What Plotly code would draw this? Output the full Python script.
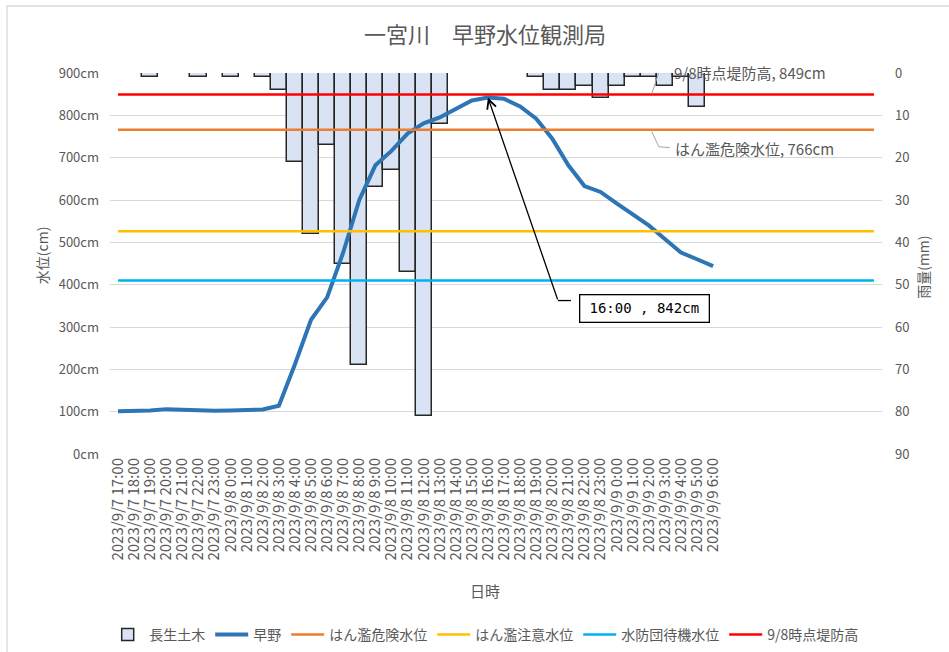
import plotly.graph_objects as go

# Hourly timestamps (9/7 17:00 - 9/9 6:00) plus blank trailing slots on the category axis
time_labels = (
    [f"2023/9/7 {h}:00" for h in range(17, 24)]
    + [f"2023/9/8 {h}:00" for h in range(0, 24)]
    + [f"2023/9/9 {h}:00" for h in range(0, 7)]
)
n_slots = 48

# 早野 water level (cm)
hayano_level = [101, 101, 103, 106, 104, 102, 102, 103, 104, 105,
                114, 212, 317, 370, 476, 600, 682, 716, 757, 781,
                795, 814, 835, 842, 839, 821, 792, 745, 682, 633,
                619, 592, 566, 540, 508, 476, 460, 444]

# 長生土木 hourly rainfall (mm); None = no rain recorded
chosei_rain = [None, None, 1, None, None, 1, None, 1, None, 1,
               4, 21, 38, 17, 45, 69, 27, 23, 47, 81,
               12, None, None, None, None, None, 1, 4, 4, 3,
               6, 3, 1, 1, 3, 1, 8, None]

# Reference water levels (cm)
danger_level = 766      # はん濫危険水位
caution_level = 526     # はん濫注意水位
standby_level = 410     # 水防団待機水位
levee_height = 849      # 9/8時点堤防高

level_ticks = list(range(0, 901, 100))
rain_ticks = list(range(0, 91, 10))

peak_idx = 23
peak_text = "16:00 , 842cm"
label_idx = 33

FONT = "Noto Sans CJK JP"
GREY = "#595959"

x_all = list(range(n_slots))
x_obs = list(range(len(time_labels)))

fig = go.Figure()

fig.add_trace(go.Bar(
    x=x_obs, y=chosei_rain, yaxis="y", name="長生土木",
    marker=dict(color="#DAE3F3", line=dict(color="#262626", width=1.5)),
    width=1.0,
))
fig.add_trace(go.Scatter(
    x=x_obs, y=hayano_level, yaxis="y2", name="早野", mode="lines",
    line=dict(color="#2E75B6", width=4),
))
for name, val, col in [
    ("はん濫危険水位", danger_level, "#ED7D31"),
    ("はん濫注意水位", caution_level, "#FFC000"),
    ("水防団待機水位", standby_level, "#00B0F0"),
    ("9/8時点堤防高", levee_height, "#FF0000"),
]:
    fig.add_trace(go.Scatter(
        x=x_all, y=[val] * n_slots, yaxis="y2", name=name, mode="lines",
        line=dict(color=col, width=2.5),
    ))

annotations = [
    # axis titles
    dict(text="水位(cm)", xref="paper", yref="paper", x=-0.088, y=0.522,
         xanchor="center", yanchor="middle",
         textangle=-90, showarrow=False, font=dict(size=14, color=GREY, family=FONT)),
    dict(text="雨量(mm)", xref="paper", yref="paper", x=1.053, y=0.491,
         xanchor="center", yanchor="middle",
         textangle=-90, showarrow=False, font=dict(size=14, color=GREY, family=FONT)),
    dict(text="日時", xref="paper", yref="paper", x=0.486, y=-0.357,
         xanchor="center", yanchor="middle",
         showarrow=False, font=dict(size=15, color=GREY, family=FONT)),
    # threshold data labels
    dict(text=f"9/8時点堤防高, {levee_height}cm", x=label_idx, y=levee_height,
         xref="x", yref="y2", xanchor="left", yanchor="middle",
         xshift=23, yshift=22, showarrow=False,
         font=dict(size=15, color=GREY, family=FONT)),
    dict(text=f"はん濫危険水位, {danger_level}cm", x=label_idx, y=danger_level,
         xref="x", yref="y2", xanchor="left", yanchor="middle",
         xshift=24, yshift=-19, showarrow=False,
         font=dict(size=15, color=GREY, family=FONT)),
    # peak callout
    dict(text=" ", x=peak_idx, y=hayano_level[peak_idx], xref="x", yref="y2",
         showarrow=True, ax=70, ay=203, arrowhead=5, arrowsize=1.4,
         arrowwidth=1.3, arrowcolor="black", standoff=0, borderpad=0,
         font=dict(size=1)),
    dict(text=peak_text, x=peak_idx, y=hayano_level[peak_idx], xref="x", yref="y2",
         xshift=157, yshift=-211, showarrow=False,
         font=dict(size=14, color="black", family="DejaVu Sans Mono"),
         bordercolor="black", borderwidth=1.3, borderpad=5, bgcolor="white",
         width=118),
]

shapes = [
    # elbow of the peak callout leader
    dict(type="path", xref="x", yref="y2", xsizemode="pixel", ysizemode="pixel",
         xanchor=peak_idx, yanchor=hayano_level[peak_idx],
         path="M70,-203 L83,-203", line=dict(color="black", width=1.3)),
    # leader lines of the threshold labels
    dict(type="path", xref="x", yref="y2", xsizemode="pixel", ysizemode="pixel",
         xanchor=label_idx, yanchor=levee_height,
         path="M3,1 L10,22 L22,22", line=dict(color="#A6A6A6", width=1)),
    dict(type="path", xref="x", yref="y2", xsizemode="pixel", ysizemode="pixel",
         xanchor=label_idx, yanchor=danger_level,
         path="M3,-2 L10,-17 L21,-18", line=dict(color="#A6A6A6", width=1)),
    # chart frame
    dict(type="path", xref="paper", yref="paper",
         path="M-0.1334,-0.7 L-0.1334,1.1759 L1.2,1.1759",
         line=dict(color="#D9D9D9", width=1.3)),
]

fig.update_layout(
    width=949, height=652,
    margin=dict(l=110, r=67, t=73, b=198, autoexpand=False),
    paper_bgcolor="white", plot_bgcolor="white",
    font=dict(family=FONT, color=GREY),
    title=dict(text="一宮川　早野水位観測局", x=0.511, xanchor="center",
               y=1 - 35 / 652, yanchor="middle",
               font=dict(size=22, color=GREY, family=FONT)),
    bargap=0,
    showlegend=True,
    legend=dict(orientation="h", x=0.486, xanchor="center",
                yref="container", y=1 - 635 / 652, yanchor="middle",
                font=dict(size=14, color=GREY, family=FONT),
                itemwidth=33, traceorder="normal"),
    xaxis=dict(range=[-0.5, n_slots - 0.5], tickmode="array",
               tickvals=x_obs, ticktext=time_labels, tickangle=-90,
               tickfont=dict(size=15, color=GREY, family=FONT),
               showgrid=False, zeroline=False, showline=False, ticks=""),
    yaxis=dict(side="right", range=[90, 0], tickmode="array",
               tickvals=rain_ticks, ticktext=[str(v) for v in rain_ticks],
               tickfont=dict(size=13, color=GREY, family=FONT),
               showgrid=True, gridcolor="#D9D9D9", gridwidth=1,
               zeroline=False, showline=False, ticklabelstandoff=12),
    yaxis2=dict(side="left", overlaying="y", range=[0, 900], tickmode="array",
                tickvals=level_ticks, ticktext=[f"{v}cm" for v in level_ticks],
                tickfont=dict(size=13, color=GREY, family=FONT),
                showgrid=False, zeroline=False, showline=False,
                ticklabelstandoff=10),
    annotations=annotations,
    shapes=shapes,
)

fig.write_html("out.html")
